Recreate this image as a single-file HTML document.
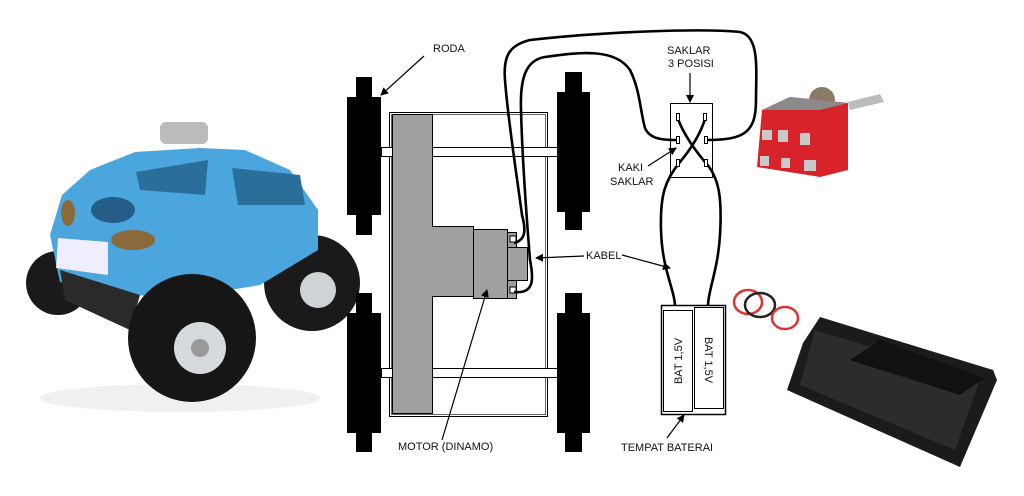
<!DOCTYPE html>
<html><head><meta charset="utf-8"><style>
html,body{margin:0;padding:0;background:#fff;width:1024px;height:496px;overflow:hidden}
svg{display:block}
text{font-family:"Liberation Sans",sans-serif;font-size:11px;fill:#111}
</style></head><body>
<svg width="1024" height="496" viewBox="0 0 1024 496" xmlns="http://www.w3.org/2000/svg">
<defs><marker id="ah" markerWidth="8" markerHeight="8" refX="7" refY="4" orient="auto" markerUnits="userSpaceOnUse"><path d="M0,0 L8,4 L0,8 z" fill="#000"/></marker></defs>
<!-- car photo -->
<g>
<ellipse cx="180" cy="398" rx="140" ry="14" fill="#f0f0f0"/>
<circle cx="58" cy="283" r="32" fill="#1a1a1a"/>
<circle cx="312" cy="283" r="48" fill="#1a1a1a"/>
<circle cx="318" cy="290" r="18" fill="#cfd3d8"/>
<path d="M50,235 L62,195 L90,170 L135,152 L200,148 L245,150 L290,170 L318,210 L318,250 L260,285 L170,300 L60,282 Z" fill="#4aa6dc"/>
<path d="M60,270 L65,300 L130,330 L140,295 Z" fill="#2a2a2a"/>
<path d="M58,238 L108,242 L108,275 L56,268 Z" fill="#eef"/>
<path d="M136,172 L208,160 L205,195 L140,190 Z" fill="#2a6f99"/>
<path d="M232,168 L300,175 L305,205 L238,205 Z" fill="#2a6f99"/>
<ellipse cx="113" cy="210" rx="22" ry="13" fill="#235d88"/>
<ellipse cx="133" cy="240" rx="22" ry="10" fill="#8a6a3a"/>
<ellipse cx="68" cy="213" rx="7" ry="13" fill="#8a6a3a"/>
<rect x="160" y="122" width="48" height="22" rx="6" fill="#bbb"/>
<circle cx="192" cy="338" r="64" fill="#161616"/>
<circle cx="200" cy="348" r="26" fill="#d6d9dd"/>
<circle cx="200" cy="348" r="9" fill="#999"/>
</g>
<!-- wheels -->
<g fill="#000">
<rect x="356" y="77" width="16" height="158"/><rect x="347" y="97" width="34" height="118"/>
<rect x="356" y="293" width="16" height="159"/><rect x="347" y="313" width="34" height="120"/>
<rect x="565" y="72" width="17" height="158"/><rect x="557" y="92" width="33" height="120"/>
<rect x="565" y="293" width="17" height="159"/><rect x="557" y="313" width="33" height="120"/>
</g>
<rect x="389.5" y="112.5" width="158" height="304" fill="#fff" stroke="#000"/>
<rect x="391.5" y="114.5" width="154" height="300" fill="none" stroke="#000" stroke-width="0.6"/>
<rect x="381.5" y="147.5" width="176" height="9" fill="#fff" stroke="#000"/>
<rect x="381.5" y="368.5" width="176" height="9" fill="#fff" stroke="#000"/>
<g fill="#a0a0a0" stroke="#000">
<path d="M392.5,114.5 H432.5 V226.5 H473.5 V296.5 H432.5 V413.5 H392.5 Z"/>
<rect x="473.5" y="229.5" width="34" height="69"/>
<rect x="507.5" y="232.5" width="9" height="66"/>
<rect x="507.5" y="247.5" width="20" height="33"/>
</g>
<rect x="510" y="236" width="6" height="6" fill="#fff" stroke="#000"/>
<rect x="510" y="287" width="6" height="6" fill="#fff" stroke="#000"/>
<!-- wires -->
<g fill="none" stroke="#000" stroke-width="2.6">
<path d="M514,243 C526,240 526,230 522,215 C516,170 508,120 505,80 C503,55 510,45 530,40 C600,32 700,28 740,32 C760,36 756,70 756,100 C756,132 745,140 707,140"/>
<path d="M514,292 C534,294 534,280 530,260 C526,210 522,150 521,110 C520,80 525,60 545,57 C580,52 615,48 630,70 C640,90 640,110 645,128 C650,140 665,140 678,140"/>
<path d="M705,119 C700,135 690,150 680,162 C665,180 660,195 661,230 C662,270 675,290 675,307"/>
<path d="M678,119 C684,135 695,150 705,162 C720,178 722,200 720,235 C718,270 708,290 708,307"/>
</g>
<!-- switch box -->
<rect x="670.5" y="103.5" width="42" height="74" fill="none" stroke="#000"/>
<g fill="#fff" stroke="#000" stroke-width="1">
<rect x="676.5" y="113.5" width="3" height="7"/><rect x="703.5" y="113.5" width="3" height="7"/>
<rect x="676.5" y="136.5" width="3" height="7"/><rect x="704.5" y="136.5" width="3" height="7"/>
<rect x="676.5" y="159.5" width="3" height="7"/><rect x="704.5" y="159.5" width="3" height="7"/>
</g>
<!-- battery holder -->
<rect x="661.5" y="305.5" width="64" height="109" fill="#fff" stroke="#000" stroke-width="1.5"/>
<rect x="663.5" y="310.5" width="29" height="101" fill="#fff" stroke="#000"/>
<rect x="694.5" y="307.5" width="29" height="101" fill="#fff" stroke="#000"/>
<text transform="translate(682,361) rotate(-90)" text-anchor="middle" font-size="11">BAT 1,5V</text>
<text transform="translate(705,360) rotate(90)" text-anchor="middle" font-size="11">BAT 1,5V</text>
<!-- labels -->
<text x="433" y="52">RODA</text>
<text x="667" y="54">SAKLAR</text>
<text x="668" y="67">3 POSISI</text>
<text x="618" y="171">KAKI</text>
<text x="610" y="185">SAKLAR</text>
<text x="586" y="259">KABEL</text>
<text x="398" y="450">MOTOR (DINAMO)</text>
<text x="621" y="451">TEMPAT BATERAI</text>
<g stroke="#000" stroke-width="1.2" fill="none" marker-end="url(#ah)">
<line x1="424" y1="56" x2="381" y2="95"/>
<line x1="690" y1="73" x2="690" y2="102"/>
<line x1="648" y1="166" x2="676" y2="148"/>
<line x1="584" y1="256" x2="536" y2="258"/>
<line x1="622" y1="255" x2="670" y2="268"/>
<line x1="442" y1="440" x2="487" y2="290"/>
<line x1="667" y1="438" x2="684" y2="415"/>
</g>
<!-- toggle switch photo -->
<circle cx="822" cy="100" r="13" fill="#8a7a66"/>
<path d="M848,102 L880,94 L884,102 L850,110 Z" fill="#bbb"/>
<path d="M762,110 L790,97 L848,103 L848,170 L820,177 L757,167 Z" fill="#d8232a"/>
<path d="M762,110 L790,97 L848,103 L820,110 Z" fill="#8a8a8a"/>
<g fill="#c9c9c9"><rect x="762" y="130" width="10" height="10"/><rect x="778" y="130" width="10" height="12"/><rect x="800" y="133" width="10" height="12"/><rect x="760" y="156" width="9" height="10"/><rect x="781" y="158" width="9" height="10"/><rect x="804" y="160" width="12" height="11"/></g>
<!-- battery holder photo -->
<g fill="none" stroke-width="2.5">
<ellipse cx="748" cy="302" rx="14" ry="12" stroke="#d33"/>
<ellipse cx="760" cy="305" rx="15" ry="12" stroke="#222"/>
<ellipse cx="785" cy="318" rx="13" ry="11" stroke="#d33"/>
</g>
<path d="M820,317 L993,370 L997,380 L960,467 L787,390 L803,343 Z" fill="#1b1b1b"/>
<path d="M815,330 L980,380 L955,450 L800,385 Z" fill="#2c2c2c"/>
<path d="M880,340 L985,378 L960,395 L850,360 Z" fill="#111"/>
</svg>
</body></html>
